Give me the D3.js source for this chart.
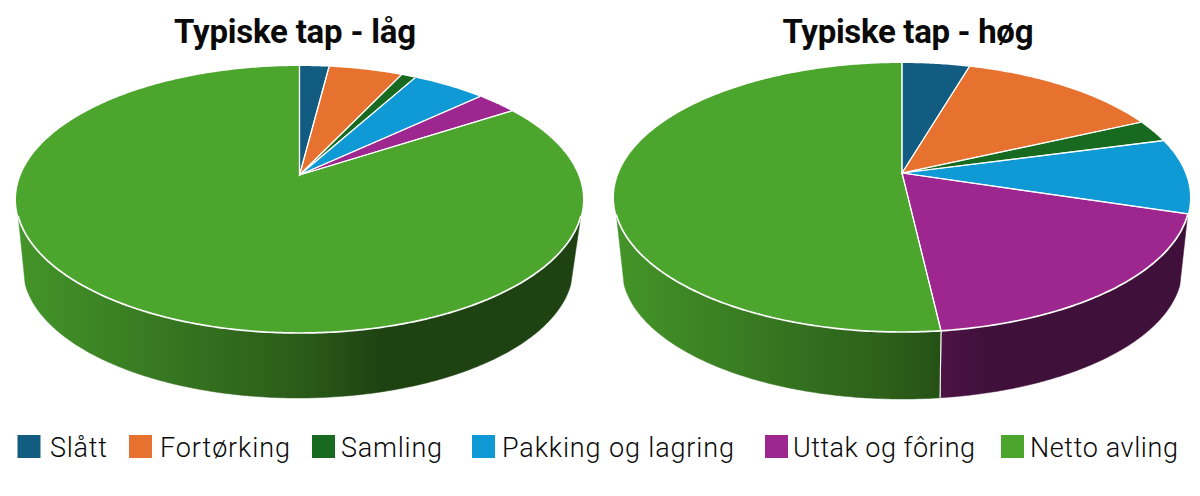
<!DOCTYPE html>
<html><head><meta charset="utf-8">
<script src="https://cdn.jsdelivr.net/npm/d3@7/dist/d3.min.js"></script>
<style>html,body{margin:0;background:#fff}svg{display:block}text{font-family:Roboto,sans-serif;fill:#0a0a0a}</style>
</head><body><svg id="c" width="1200" height="496"></svg>
<script>
const categories = ["Slått","Fortørking","Samling","Pakking og lagring","Uttak og fôring","Netto avling"];
const colors = ["#125c82","#e7712f","#176a20","#0f9ad6","#9d278e","#4ca52d"];
const lowValues = [2,5,1,5,2.8,84.2];
const highValues = [4.5,13.6,2.7,9,18.4,51.8];
const titles = ["Typiske tap - låg","Typiske tap - høg"];

// layout
const pies = [
 {values:lowValues,title:titles[0],titleX:295,titleW:242,
  top:{cx:299.5,y0:66,y1:333,rx:283.5,apex:175},
  bot:{cx:298,y0:138,y1:398,rx:275,apex:244.3},x0:16,x1:583},
 {values:highValues,title:titles[1],titleX:908,titleW:251,
  top:{cx:902,y0:63,y1:332,rx:288,apex:173},
  bot:{cx:902,y0:139,y1:399,rx:280,apex:245},x0:614,x1:1190}
];
const legendSwatchX=[17.5,129,312,472,765,1001];
const legendTextX=[50,160,341,502,793,1030];
const legendTextW=[57,130,101,232,182,148];
const wallStops=[[0,.9],[.5,.56],[.65,.4],[1,.4]];
const visA=107.5*Math.PI/180, visB=252.5*Math.PI/180;

const svg=d3.select("#c"), defs=svg.append("defs");
const tr=g=>{const dt=g.apex-g.y0,db=g.y1-g.apex,t=(db-dt)/(db+dt),B=db*(1-t),A=g.rx*Math.sqrt(1-t*t);
  return a=>{const w=1+t*Math.cos(a);return [g.cx+A*Math.sin(a)/w,g.apex-B*Math.cos(a)/w];};};
const samples=(a,b)=>d3.range(0,1.0001,1/Math.max(2,Math.ceil((b-a)*90))).map(f=>a+(b-a)*f);
const line=d3.line();
const pieGen=d3.pie().sort(null).value(d=>d);

pies.forEach((p,pi)=>{
  const G=svg.append("g"), T=tr(p.top), Bt=tr(p.bot);
  const arcs=pieGen(p.values);
  arcs.forEach((d,i)=>{
    const id=`w${pi}_${i}`, c=d3.rgb(colors[i]);
    const gr=defs.append("linearGradient").attr("id",id).attr("gradientUnits","userSpaceOnUse")
      .attr("x1",p.x0).attr("x2",p.x1).attr("y1",0).attr("y2",0);
    wallStops.forEach(s=>gr.append("stop").attr("offset",s[0])
      .attr("stop-color",d3.rgb(c.r*s[1],c.g*s[1],c.b*s[1]).formatHex()));
    const a=Math.max(d.startAngle,visA), b=Math.min(d.endAngle,visB);
    if(b<=a) return;
    const s=samples(a,b);
    G.append("path").attr("d",line(s.map(T).concat(s.slice().reverse().map(Bt)))+"Z")
      .attr("fill",`url(#${id})`).attr("stroke",`url(#${id})`).attr("stroke-width",.5);
    [[a,d.startAngle],[b,d.endAngle]].forEach(([e,o])=>{ if(e===o&&o>visA&&o<visB)
      G.append("path").attr("d",line([T(e),Bt(e)])).attr("stroke","#f4f4f4").attr("stroke-width",1.1).attr("fill","none");});
  });
  arcs.forEach((d,i)=>{
    const pts=[[p.top.cx,p.top.apex]].concat(samples(d.startAngle,d.endAngle).map(T));
    G.append("path").attr("d",line(pts)+"Z").attr("fill",colors[i]);
  });
  arcs.forEach(d=>{
    G.append("path").attr("d",line([T(d.startAngle),[p.top.cx,p.top.apex],T(d.endAngle)]))
      .attr("fill","none").attr("stroke","#fff").attr("stroke-opacity",.9).attr("stroke-width",1.2);
  });
  // front rim highlight
  G.append("path").attr("d",line(samples(visA,visB).map(T))).attr("fill","none").attr("stroke","#fff").attr("stroke-width",1.7);
  svg.append("text").attr("x",p.titleX).attr("y",43).attr("text-anchor","middle")
    .attr("font-size",33).attr("font-weight",700).attr("textLength",p.titleW).attr("lengthAdjust","spacing").text(p.title);
});

categories.forEach((c,i)=>{
  svg.append("rect").attr("x",legendSwatchX[i]).attr("y",435).attr("width",23).attr("height",23).attr("fill",colors[i]);
  svg.append("text").attr("x",legendTextX[i]).attr("y",457).attr("font-size",27).attr("font-weight",300)
    .attr("textLength",legendTextW[i]).attr("lengthAdjust","spacing").text(c);
});
</script></body></html>
